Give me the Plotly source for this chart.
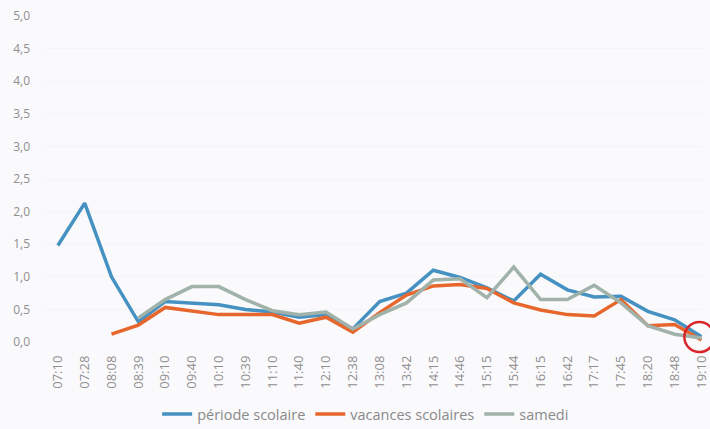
import plotly.graph_objects as go

# Departure times (x categories)
times = ["07:10", "07:28", "08:08", "08:39", "09:10", "09:40", "10:10", "10:39",
         "11:10", "11:40", "12:10", "12:38", "13:08", "13:42", "14:15", "14:46",
         "15:15", "15:44", "16:15", "16:42", "17:17", "17:45", "18:20", "18:48",
         "19:10"]

# Values per day type (None = no service)
periode_scolaire = [1.48, 2.13, 1.00, 0.31, 0.62, 0.60, 0.57, 0.50,
                    0.46, 0.38, 0.42, 0.20, 0.62, 0.75, 1.10, 0.99,
                    0.83, 0.63, 1.04, 0.80, 0.69, 0.70, 0.47, 0.34,
                    0.08]
vacances_scolaires = [None, None, 0.12, 0.26, 0.53, 0.47, 0.42, 0.42,
                      0.42, 0.29, 0.38, 0.15, 0.45, 0.72, 0.86, 0.88,
                      0.82, 0.60, 0.49, 0.42, 0.40, 0.65, 0.25, 0.27,
                      0.03]
samedi = [None, None, None, 0.37, 0.65, 0.85, 0.85, 0.65,
          0.48, 0.42, 0.46, 0.20, 0.42, 0.60, 0.95, 0.97,
          0.68, 1.15, 0.65, 0.65, 0.87, 0.60, 0.25, 0.12,
          0.06]

y_ticks = [0, 0.5, 1, 1.5, 2, 2.5, 3, 3.5, 4, 4.5, 5]

x_idx = list(range(len(times)))

series = [
    ("période scolaire", periode_scolaire, "#4591c2"),
    ("vacances scolaires", vacances_scolaires, "#e6662c"),
    ("samedi", samedi, "#a1b2aa"),
]

fig = go.Figure()
for name, vals, color in series:
    fig.add_trace(go.Scatter(
        x=x_idx, y=vals, name=name, mode="lines",
        line=dict(color=color, width=3.5),
        connectgaps=False,
    ))

# highlight ring around the last departure (paper-referenced so it is not clipped)
fig.add_shape(
    type="circle", xref="paper", yref="paper",
    xsizemode="pixel", ysizemode="pixel",
    xanchor=0.996, yanchor=0.015,
    x0=-15, x1=15, y0=-15, y1=15,
    line=dict(color="#d8262a", width=2.5),
)

font_gray = "#8f8f8f"
fig.update_layout(
    width=710, height=429,
    margin=dict(l=45, r=0, t=16, b=87),
    paper_bgcolor="#faf9fb", plot_bgcolor="#faf9fb",
    separators=", ",
    font=dict(family="Open Sans, DejaVu Sans, sans-serif", color=font_gray, size=12),
    showlegend=True,
    legend=dict(
        orientation="h", x=0.515, xanchor="center", xref="container",
        y=0.035, yanchor="middle", yref="container",
        font=dict(size=14.5, color="#8a8a8a"),
        itemwidth=30, tracegroupgap=0,
        bgcolor="rgba(0,0,0,0)",
    ),
    xaxis=dict(
        range=[-0.48, 24.02],
        tickmode="array", tickvals=x_idx, ticktext=times,
        tickangle=-90, showgrid=False, zeroline=False,
        showline=False, ticks="",
        tickfont=dict(size=13, color=font_gray),
        ticklabelstandoff=10,
        ticklabeloverflow="allow",
    ),
    yaxis=dict(
        range=[0, 5],
        tickmode="array", tickvals=y_ticks, tickformat=".1f",
        showgrid=True, gridcolor="#f4f3f5", gridwidth=1,
        zeroline=False, showline=False, ticks="",
        tickfont=dict(size=12, color=font_gray),
        ticklabelstandoff=14,
    ),
)

fig.write_html("out.html")
